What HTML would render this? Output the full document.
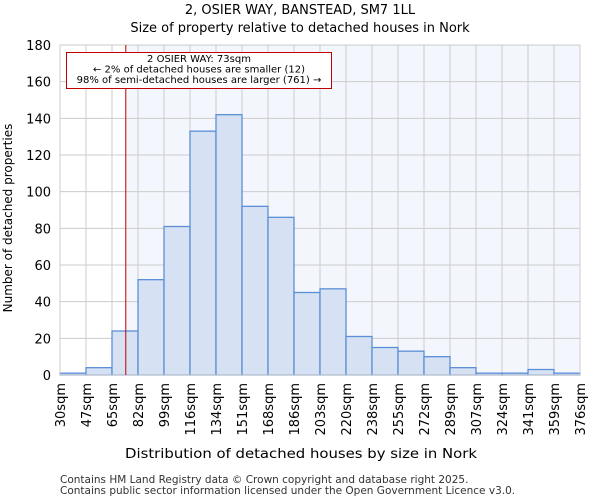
<!DOCTYPE html>
<html><head><meta charset="utf-8"><style>
body{margin:0;background:#fff;font-family:"DejaVu Sans","Liberation Sans",sans-serif}
</style></head><body>
<svg id="c" width="600" height="500" xmlns="http://www.w3.org/2000/svg" font-family="DejaVu Sans, Liberation Sans, sans-serif">
<text x="300" y="14" font-size="13" text-anchor="middle">2, OSIER WAY, BANSTEAD, SM7 1LL</text>
<text x="300" y="32" font-size="13" text-anchor="middle">Size of property relative to detached houses in Nork</text>
<g id="plot"></g>
<text x="301" y="458" font-size="13" text-anchor="middle" textLength="352" lengthAdjust="spacingAndGlyphs">Distribution of detached houses by size in Nork</text>
<text transform="translate(12,218) rotate(-90)" font-size="12" text-anchor="middle">Number of detached properties</text>
<text x="60" y="483" font-size="10.5" fill="#333">Contains HM Land Registry data © Crown copyright and database right 2025.</text>
<text x="60" y="494" font-size="10.5" fill="#333">Contains public sector information licensed under the Open Government Licence v3.0.</text>
</svg>
<script>
const categories=["30sqm","47sqm","65sqm","82sqm","99sqm","116sqm","134sqm","151sqm","168sqm","186sqm","203sqm","220sqm","238sqm","255sqm","272sqm","289sqm","307sqm","324sqm","341sqm","359sqm","376sqm"];
const counts=[1,4,24,52,81,133,142,92,86,45,47,21,15,13,10,4,1,1,3,1];
const yTicks=[0,20,40,60,80,100,120,140,160,180];
const markerIndex=2.53;
const NS="http://www.w3.org/2000/svg";
const L=60,R=580,T=45,B=375,yMax=180;
const n=counts.length, bw=(R-L)/n;
const xs=i=>L+i*bw, ys=v=>B-v/yMax*(B-T);
const g=document.getElementById('plot');
function mk(t,a){const e=document.createElementNS(NS,t);for(const k in a)e.setAttribute(k,a[k]);g.appendChild(e);return e;}
const mx=xs(markerIndex);
let e=mk('rect',{x:mx,y:T,width:R-mx,height:B-T,fill:'#f3f6fd'});


yTicks.forEach(v=>{
 let l=mk('line',{x1:L,x2:R,y1:ys(v),y2:ys(v),stroke:'#cccccc'});
 
 
 let t=mk('text',{x:L-9,y:ys(v)+5,'font-size':13,'text-anchor':'end'});t.textContent=v;
 
 
});
categories.forEach((c,i)=>{
 let l=mk('line',{x1:xs(i),x2:xs(i),y1:T,y2:B,stroke:'#cccccc'});
 
 
 let t=mk('text',{transform:`translate(${xs(i)+5},${B+8}) rotate(-90)`,'font-size':13,'text-anchor':'end'});t.textContent=c;
 
 
});
counts.forEach((v,i)=>{
 let r=mk('rect',{x:xs(i),y:ys(v),width:bw,height:B-ys(v),fill:'#d6e1f3',stroke:'#5b8fd6','stroke-width':1.3});
 
 
});
e=mk('rect',{x:L,y:T,width:R-L,height:B-T,fill:'none',stroke:'#cccccc'});


e=mk('line',{x1:mx,x2:mx,y1:T,y2:B,stroke:'#c00000','stroke-width':1});


e=mk('rect',{x:66.5,y:52.5,width:265,height:36,fill:'#fff',stroke:'#c00000'});


["2 OSIER WAY: 73sqm","← 2% of detached houses are smaller (12)","98% of semi-detached houses are larger (761) →"].forEach((s,i)=>{
 let t=mk('text',{x:199,y:62+i*10.5,'font-size':10,'text-anchor':'middle'});t.textContent=s;
 
 
});
</script>
</body></html>
